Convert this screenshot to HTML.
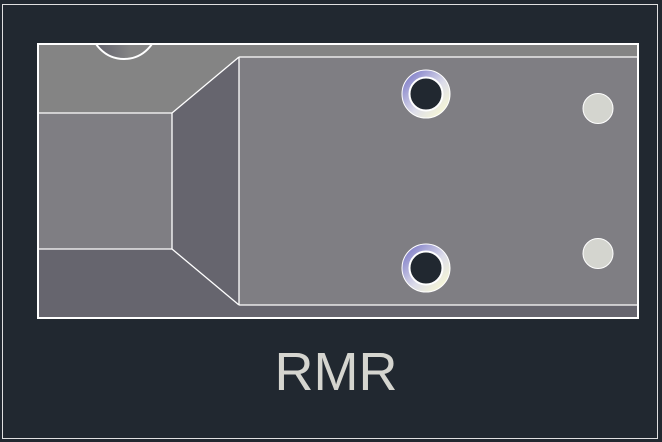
<!DOCTYPE html>
<html><head><style>html,body{margin:0;padding:0;background:#212830;width:662px;height:442px;overflow:hidden}</style></head>
<body>
<svg width="662" height="442" viewBox="0 0 662 442" xmlns="http://www.w3.org/2000/svg">
<defs>
<linearGradient id="sg" x1="0" y1="0" x2="1" y2="0"><stop offset="0" stop-color="#5e5e6a"/><stop offset="0.6" stop-color="#858585"/></linearGradient>
<linearGradient id="rg" x1="0" y1="0" x2="1" y2="1"><stop offset="0.15" stop-color="#8a88cc"/><stop offset="0.55" stop-color="#dcdcea"/><stop offset="0.85" stop-color="#f4f4d8"/></linearGradient>
<clipPath id="c"><rect x="38" y="44" width="600" height="274"/></clipPath>
</defs>
<rect x="2.5" y="4.5" width="655" height="434" fill="none" stroke="#e0e0e0" stroke-width="1"/>
<rect x="38" y="44" width="600" height="274" fill="#848484"/>
<rect x="38" y="113" width="134" height="136" fill="#7f7e83"/>
<polygon points="38,249 172,249 239,305 638,305 638,318 38,318" fill="#66656e"/>
<polygon points="172,113 239,57 239,305 172,249" fill="#66656e"/>
<rect x="239" y="57" width="399" height="248" fill="#7f7e83"/>
<g clip-path="url(#c)"><circle cx="124" cy="25.5" r="33.5" fill="url(#sg)" stroke="#fff" stroke-width="2"/></g>
<g fill="none" stroke="#fff" stroke-width="1.3">
<rect x="38" y="44" width="600" height="274" stroke-width="2"/>
<line x1="38" y1="113" x2="172" y2="113"/>
<line x1="38" y1="249" x2="172" y2="249"/>
<line x1="172" y1="113" x2="172" y2="249"/>
<line x1="172" y1="113" x2="239" y2="57"/>
<line x1="172" y1="249" x2="239" y2="305"/>
<line x1="239" y1="57" x2="638" y2="57"/>
<line x1="239" y1="305" x2="638" y2="305"/>
<line x1="239" y1="57" x2="239" y2="305"/>
</g>
<g stroke="#fff" stroke-width="1">
<circle cx="426" cy="94" r="24" fill="url(#rg)"/>
<circle cx="426" cy="94" r="16.5" fill="#212830" stroke-width="2"/>
<circle cx="426" cy="268" r="24" fill="url(#rg)"/>
<circle cx="426" cy="268" r="16.5" fill="#212830" stroke-width="2"/>
<circle cx="598" cy="108.5" r="15" fill="#d4d5cf"/>
<circle cx="598" cy="253.5" r="15" fill="#d4d5cf"/>
</g>
<text x="336" y="390" text-anchor="middle" font-family="Liberation Sans, sans-serif" font-size="54" fill="#d5d5cf">RMR</text>
</svg>
</body></html>
